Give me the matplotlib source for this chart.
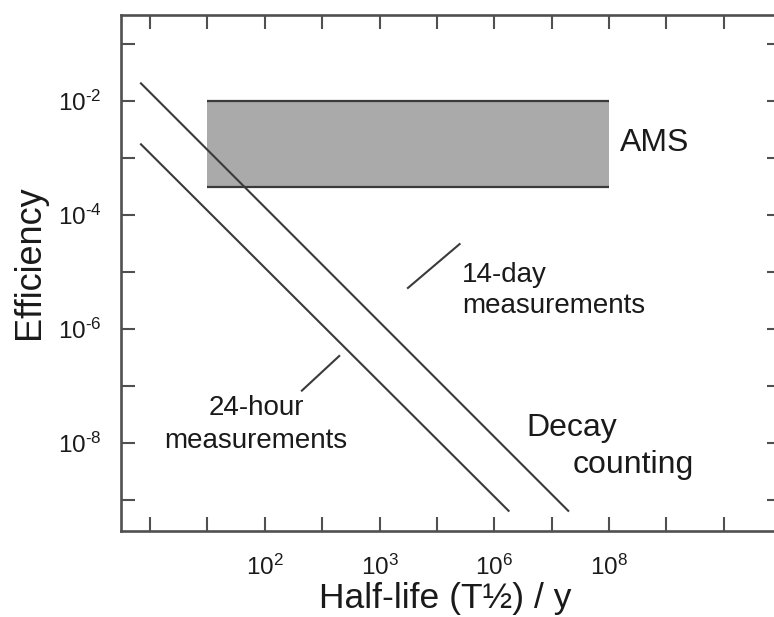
import numpy as np
import matplotlib
matplotlib.use("Agg")
import matplotlib.pyplot as plt

plt.rcParams['font.family'] = ['Liberation Sans', 'DejaVu Sans']
plt.rcParams['mathtext.fontset'] = 'custom'
plt.rcParams['mathtext.rm'] = 'Liberation Sans'
plt.rcParams['mathtext.it'] = 'Liberation Sans:italic'
plt.rcParams['mathtext.bf'] = 'Liberation Sans:bold'

# x positions are in tick steps along the (non-uniform) half-life axis
x_ticks = list(range(0, 11))
x_tick_labels = {2: r'$\mathregular{10^{2}}$', 4: r'$\mathregular{10^{3}}$',
                 6: r'$\mathregular{10^{6}}$', 8: r'$\mathregular{10^{8}}$'}
y_ticks = [1e-1, 1e-2, 1e-3, 1e-4, 1e-5, 1e-6, 1e-7, 1e-8, 1e-9]
y_tick_labels = {1e-2: '2', 1e-4: '4', 1e-6: '6', 1e-8: '8'}

# detection-limit lines
day14_x = [-0.16, 7.29]
day14_eff = [2.04e-2, 6.46e-10]
hour24_x = [-0.16, 6.25]
hour24_eff = [1.74e-3, 6.46e-10]

# AMS band
ams_x = [1, 8]
ams_low = 3.16e-4
ams_high = 1e-2

# label pointer lines
ptr14_x = [4.495, 5.396]
ptr14_eff = [5.25e-6, 3.09e-5]
ptr24_x = [2.646, 3.297]
ptr24_eff = [8.3e-8, 3.36e-7]

dark = '#3a3a3a'
axcol = '#505050'

fig = plt.figure(figsize=(7.74, 6.17), dpi=100)
ax = fig.add_axes([121 / 774, 1 - 531 / 617, 660 / 774, 516 / 617])
ax.set_yscale('log')
ax.set_xlim(-0.508, 11.0)
ax.set_ylim(10 ** -9.544, 10 ** -0.491)

ax.fill_between(ams_x, ams_low, ams_high, color='#aaaaaa', lw=0)
ax.hlines([ams_low, ams_high], ams_x[0], ams_x[1], color=dark, lw=1.6)

ax.plot(day14_x, day14_eff, color=dark, lw=1.5)
ax.plot(hour24_x, hour24_eff, color=dark, lw=1.5)
ax.plot(ptr14_x, ptr14_eff, color=dark, lw=1.5)
ax.plot(ptr24_x, ptr24_eff, color=dark, lw=1.5)

tc = '#1a1a1a'
ax.text(5.438, 10 ** -5.170, '14-day', fontsize=20, ha='left', va='baseline', color=tc)
ax.text(5.438, 10 ** -5.719, 'measurements', fontsize=20, ha='left', va='baseline', color=tc)
ax.text(1.85, 10 ** -7.509, '24-hour', fontsize=20, ha='center', va='baseline', color=tc)
ax.text(1.85, 10 ** -8.088, 'measurements', fontsize=20, ha='center', va='baseline', color=tc)
ax.text(6.56, 10 ** -7.877, 'Decay', fontsize=23, ha='left', va='baseline', color=tc)
ax.text(7.365, 10 ** -8.535, 'counting', fontsize=23, ha='left', va='baseline', color=tc)
ax.text(8.80, 10 ** -2.737, 'AMS', fontsize=23, ha='center', va='center', color=tc)

ax.set_xticks(x_ticks)
ax.set_xticklabels([x_tick_labels.get(t, '') for t in x_ticks])
ax.set_yticks(y_ticks)
ax.set_yticklabels([(r'$\mathregular{10^{\text{-}%s}}$' % y_tick_labels[t]) if t in y_tick_labels else ''
                    for t in y_ticks])
ax.yaxis.set_minor_locator(matplotlib.ticker.NullLocator())

ax.tick_params(axis='both', which='major', direction='in', length=10, width=1.5,
               color=axcol, labelsize=17.5, labelcolor=tc, top=True, right=True)
ax.tick_params(axis='x', pad=17)
ax.tick_params(axis='y', pad=14)
for sp in ax.spines.values():
    sp.set_color(axcol)
    sp.set_linewidth(1.9)

ax.set_xlabel('Half-life (T½) / y', fontsize=25.5, color=tc, va='baseline')
ax.xaxis.set_label_coords(0.491, -0.150)
ax.set_ylabel('Efficiency', fontsize=26, color=tc, va='center')
ax.yaxis.set_label_coords(-0.138, 0.521)

fig.savefig('out.png', dpi=100)
